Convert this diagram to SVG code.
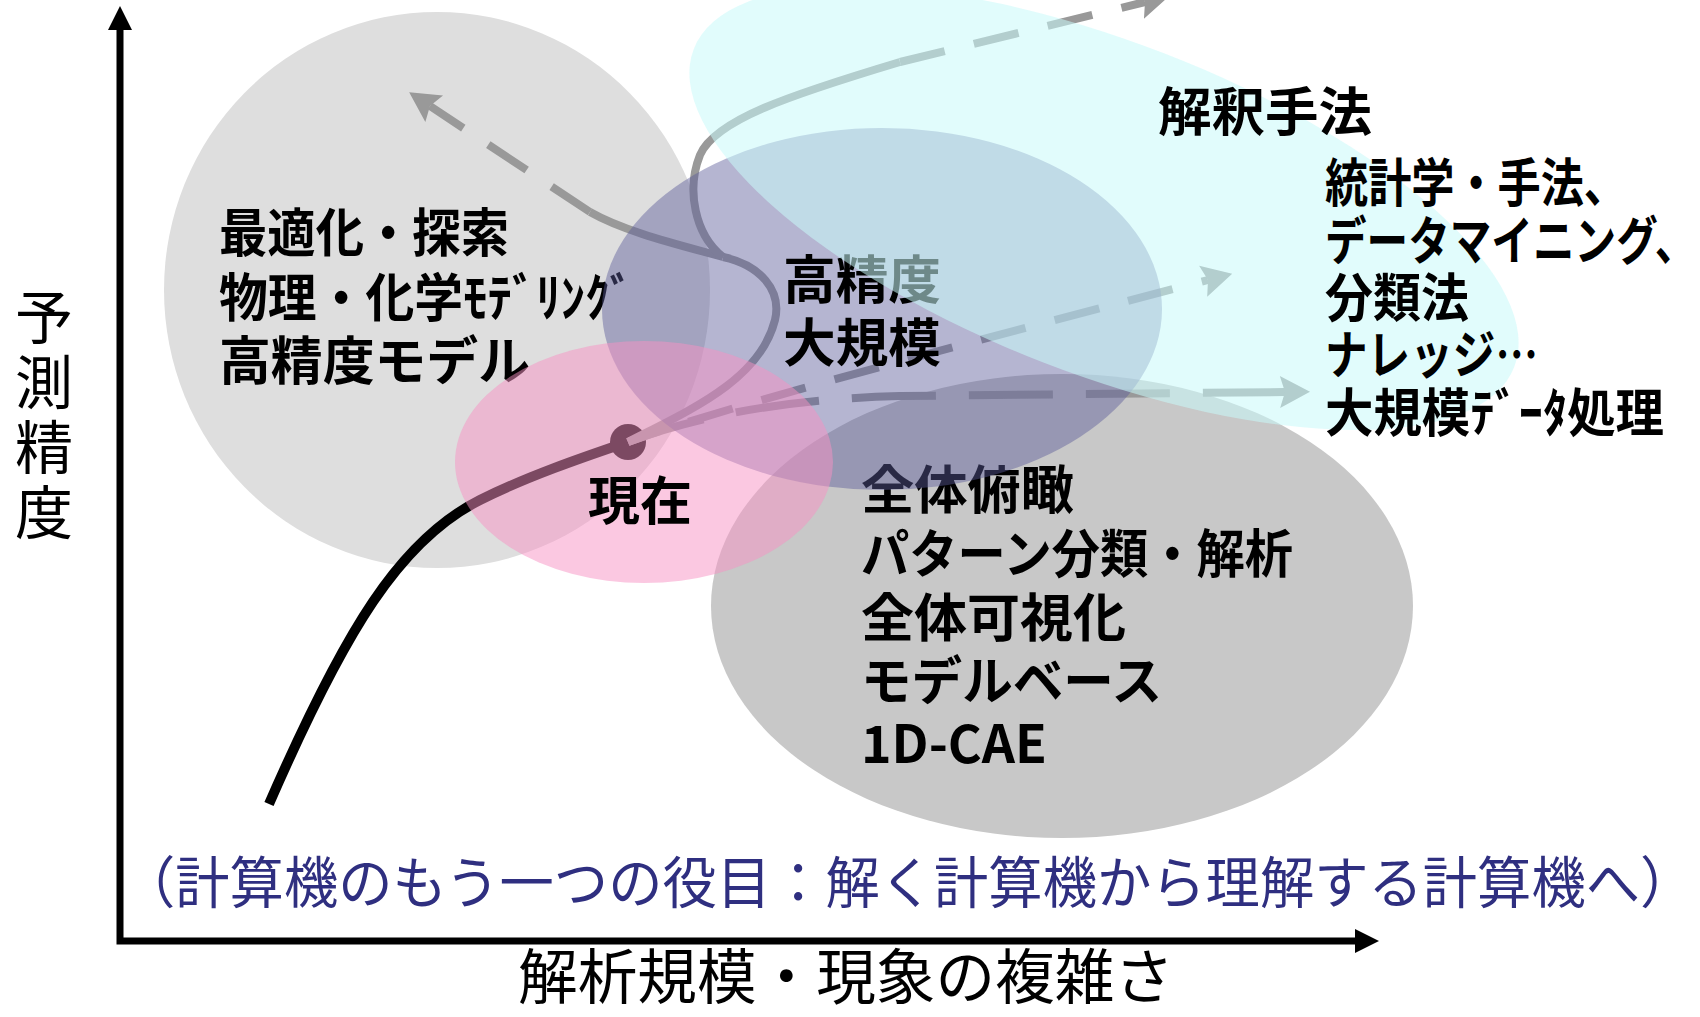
<svg xmlns="http://www.w3.org/2000/svg" width="1700" height="1017" viewBox="0 0 1700 1017">
<defs>
<style>
.lbl{font-family:'Noto Sans CJK JP','Noto Sans CJK SC',sans-serif;font-weight:700;font-size:52px;fill:#000}
.axl{font-family:'Noto Sans CJK JP','Noto Sans CJK SC',sans-serif;font-weight:400;fill:#000}
.gl{fill:none;stroke:#999;stroke-width:8}
.dash{stroke-dasharray:46 30}
</style>
<marker id="ah" viewBox="-32 -17 34 34" refX="-25" refY="0" markerWidth="34" markerHeight="34" markerUnits="userSpaceOnUse" orient="auto">
<polygon points="0,0 -30,-16 -25,0 -30,16" fill="#999"/>
</marker>
</defs>
<rect width="1700" height="1017" fill="#fff"/>

<g id="node-optimization">
<ellipse cx="437" cy="290" rx="273" ry="278" fill="#dedede"/>
<text class="lbl" x="219" y="252" textLength="290" lengthAdjust="spacingAndGlyphs">最適化・探索</text>
<text class="lbl" x="219" y="317" textLength="415" lengthAdjust="spacingAndGlyphs">物理・化学ﾓﾃﾞﾘﾝｸﾞ</text>
<text class="lbl" x="219" y="380" textLength="311" lengthAdjust="spacingAndGlyphs">高精度モデル</text>
</g>

<g id="node-overview">
<ellipse cx="1062" cy="606" rx="351" ry="232" fill="#c8c8c8"/>
<text class="lbl" x="861" y="509" textLength="213" lengthAdjust="spacingAndGlyphs">全体俯瞰</text>
<text class="lbl" x="861" y="573" textLength="432" lengthAdjust="spacingAndGlyphs">パターン分類・解析</text>
<text class="lbl" x="861" y="637" textLength="265" lengthAdjust="spacingAndGlyphs">全体可視化</text>
<text class="lbl" x="861" y="700" textLength="301" lengthAdjust="spacingAndGlyphs">モデルベース</text>
<text class="lbl" x="861" y="763" textLength="186" lengthAdjust="spacingAndGlyphs">1D-CAE</text>
</g>

<g id="connectors">
<path d="M269,804 C345,630 400,540 480,500 C530,475 590,455 628,442" fill="none" stroke="#000" stroke-width="10"/>
<circle cx="628" cy="442" r="18" fill="#000"/>
<path class="gl" d="M628,442 C690,410 760,380 775,320 C782,290 760,265 723,257"/>
<path class="gl" d="M723,257 C680,245 625,232 590,212"/>
<path class="gl dash" d="M590,212 L430,106" marker-end="url(#ah)"/>
<path class="gl" d="M723,257 C695,235 686,190 700,155 C715,120 790,95 900,62"/>
<path class="gl dash" d="M900,62 L1145,2" marker-end="url(#ah)"/>
<path class="gl dash" d="M628,442 C700,415 900,360 1208,280" stroke-dashoffset="12" marker-end="url(#ah)"/>
<path class="gl" d="M628,442 Q740,400 900,396 L1285,392" stroke-width="11" stroke-dasharray="84 33" stroke-dashoffset="5" marker-end="url(#ah)"/>
</g>

<g id="node-highprecision">
<ellipse cx="882" cy="309" rx="280" ry="181" fill="rgb(90,90,154)" fill-opacity="0.45"/>
<text class="lbl" x="783" y="299" textLength="158" lengthAdjust="spacingAndGlyphs">高精度</text>
<text class="lbl" x="783" y="362" textLength="158" lengthAdjust="spacingAndGlyphs">大規模</text>
</g>

<g id="node-current">
<ellipse cx="644" cy="462" rx="189" ry="121" fill="rgb(248,146,196)" fill-opacity="0.5"/>
<text class="lbl" x="588" y="520" textLength="104" lengthAdjust="spacingAndGlyphs">現在</text>
</g>

<g id="node-interpretation">
<ellipse cx="0" cy="0" rx="440" ry="166" transform="translate(1104 208) rotate(21.2)" fill="rgb(200,250,250)" fill-opacity="0.55"/>
<text class="lbl" x="1158" y="131" font-size="50" textLength="214" lengthAdjust="spacingAndGlyphs">解釈手法</text>
<text class="lbl" x="1325" y="202" font-size="48" textLength="302" lengthAdjust="spacingAndGlyphs">統計学・手法、</text>
<text class="lbl" font-size="48" transform="translate(1325 260) scale(0.80 1)" x="0" y="0">データマイニング、</text>
<text class="lbl" x="1325" y="317" font-size="48" textLength="144" lengthAdjust="spacingAndGlyphs">分類法</text>
<text class="lbl" x="1325" y="374" font-size="48" textLength="213" lengthAdjust="spacingAndGlyphs">ナレッジ…</text>
<text class="lbl" x="1325" y="432" font-size="48" textLength="339" lengthAdjust="spacingAndGlyphs">大規模ﾃﾞｰﾀ処理</text>
</g>

<g id="axes">
<polyline points="120,28 120,941 1356,941" fill="none" stroke="#000" stroke-width="7" stroke-linejoin="miter"/>
<polygon points="120,6 108,30 132,30" fill="#000"/>
<polygon points="1379,941 1355,929 1355,953" fill="#000"/>
</g>

<g id="labels">
<text class="axl" font-size="58" text-anchor="middle" x="44" y="339">予</text>
<text class="axl" font-size="58" text-anchor="middle" x="44" y="404">測</text>
<text class="axl" font-size="58" text-anchor="middle" x="44" y="469">精</text>
<text class="axl" font-size="58" text-anchor="middle" x="44" y="534">度</text>
<text class="axl" font-size="60" x="518" y="999" textLength="656" lengthAdjust="spacingAndGlyphs">解析規模・現象の複雑さ</text>
<text class="axl" font-size="56" transform="translate(121 903) scale(0.97 1)" x="0" y="0" style="fill:#2f2f80">（計算機のもう一つの役目：解く計算機から理解する計算機へ）</text>
</g>
</svg>
